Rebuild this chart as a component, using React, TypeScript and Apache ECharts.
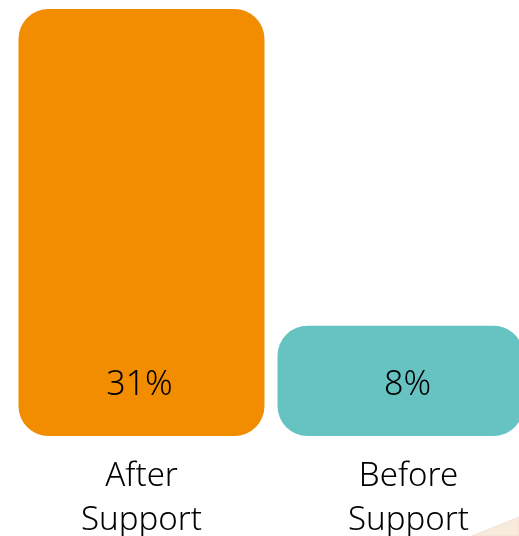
import React, { useEffect, useRef } from "react";
import * as echarts from "echarts";

const categories = ["After\nSupport", "Before\nSupport"];
const values = [31, 8];
const colors = ["#F28C00", "#67C2C2"];

export default function App() {
  const ref = useRef<HTMLDivElement>(null);
  useEffect(() => {
    if (!ref.current) return;
    const chart = echarts.init(ref.current, null, { renderer: "svg" });
    chart.setOption({
      animation: false,
      grid: {
        left: 12,
        top: 9,
        width: 518,
        bottom: 100,
        containLabel: false,
        outerBoundsMode: "none",
      },
      xAxis: {
        type: "category",
        data: categories.map((c, i) => ({
          value: c,
          textStyle: { padding: i === 1 ? [0, 0, 0, 16] : [0, 0, 0, 0] },
        })),
        axisLine: { show: false },
        axisTick: { show: false },
        axisLabel: {
          color: "#000",
          fontFamily: "Noto Sans",
          fontWeight: 300,
          fontSize: 33,
          lineHeight: 44,
          margin: 15,
        },
      },
      yAxis: {
        type: "value",
        min: 0,
        max: 31,
        show: false,
        splitLine: { show: false },
      },
      series: [
        {
          type: "bar",
          barWidth: 246,
          data: values.map((v, i) => ({
            value: v,
            itemStyle: { color: colors[i], borderRadius: 30 },
            label: { offset: i === 1 ? [7, 0] : [-2, 0] },
          })),
          label: {
            show: true,
            position: "insideBottom",
            distance: 37,
            formatter: "{c}%",
            color: "#000",
            fontFamily: "Noto Sans",
            fontWeight: 300,
            fontSize: 34,
            lineHeight: 34,
          },
        },
      ],
      graphic: [
        {
          type: "polygon",
          shape: { points: [[472, 536], [519, 517], [519, 536]] },
          style: { fill: "#F9EBDC", stroke: "#E9D6C4", lineWidth: 0.6 },
        },
      ],
    });
    return () => chart.dispose();
  }, []);
  return (
    <div
      style={{
        position: "fixed",
        left: 0,
        top: 0,
        width: 519,
        height: 536,
        overflow: "hidden",
      }}
    >
      <div ref={ref} style={{ width: 540, height: 536 }} />
    </div>
  );
}
